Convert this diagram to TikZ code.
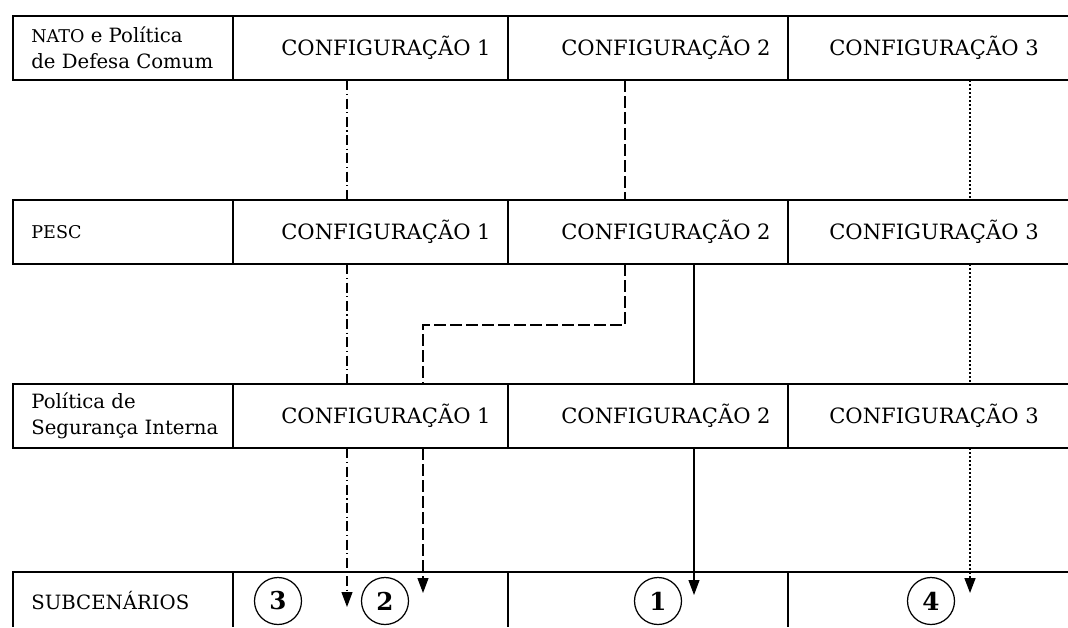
\documentclass[tikz,border=0pt]{standalone}
\usepackage{fontspec}
\setmainfont{DejaVu Serif}
\usetikzlibrary{positioning}
\usetikzlibrary{arrows.meta}

\tikzset{
  grid/.style={line width=0.9pt},
  cell/.style={minimum height=12.8mm, inner sep=0pt, font=\fontsize{12}{14}\selectfont},
  lbl/.style={anchor=west, align=left, inner sep=0pt, font=\fontsize{11.2}{14.5}\selectfont},
  num/.style={circle, draw, line width=0.7pt, minimum size=9.4mm, inner sep=0pt, font=\fontsize{14}{16}\selectfont\bfseries},
  arr/.style={-{Triangle[length=3mm,width=2.2mm]}},
  dashdot/.style={line width=0.6pt, dash pattern=on 2mm off 0.7mm on 0.25mm off 0.7mm},
  dsh/.style={line width=0.6pt, dash pattern=on 2.4mm off 0.8mm},
  dots/.style={line width=0.9pt, dash pattern=on 0.4mm off 0.4mm},
  sol/.style={line width=0.6pt}
}

\begin{document}
\begin{tikzpicture}[x=0.2mm, y=-0.2mm]

\useasboundingbox (0,0) rectangle (1068,627);

% grid
\foreach \t/\b in {16/80, 200/264, 384/448}{
  \draw[grid] (1068,\t) -- (13,\t) -- (13,\b) -- (1068,\b);
  \draw[grid] (233,\t) -- (233,\b);
  \draw[grid] (508,\t) -- (508,\b);
  \draw[grid] (788,\t) -- (788,\b);
}
\draw[grid] (1068,572) -- (13,572) -- (13,627);
\draw[grid] (233,572) -- (233,627);
\draw[grid] (508,572) -- (508,627);
\draw[grid] (788,572) -- (788,627);

% nodes
{
\node[lbl] (l1) at (31,48) {{\fontsize{10}{12}\selectfont NATO} e Política\\de Defesa Comum};
\node[lbl] (l2) at (31,232) {\fontsize{10}{12}\selectfont PESC};
\node[lbl] (l3) at (31,416) {Política de\\Segurança Interna};
\node[lbl] (l4) at (31,601) {SUBCENÁRIOS};

\node[cell] (c11) at (386,48) {CONFIGURAÇÃO 1};
\node[cell] (c12) at (666,48) {CONFIGURAÇÃO 2};
\node[cell] (c13) at (934,48) {CONFIGURAÇÃO 3};

\node[cell] (c21) at (386,232) {CONFIGURAÇÃO 1};
\node[cell] (c22) at (666,232) {CONFIGURAÇÃO 2};
\node[cell] (c23) at (934,232) {CONFIGURAÇÃO 3};

\node[cell] (c31) at (386,416) {CONFIGURAÇÃO 1};
\node[cell] (c32) at (666,416) {CONFIGURAÇÃO 2};
\node[cell] (c33) at (934,416) {CONFIGURAÇÃO 3};

\node[num] (s3) at (278,601) {3};
\node[num] (s2) at (385,601) {2};
\node[num] (s1) at (658,601) {1};
\node[num] (s4) at (931,601) {4};
}

\coordinate (xa) at (347,0);
\coordinate (xb) at (625,0);
\coordinate (kb) at (423,325);
\coordinate (xc) at (694,0);
\coordinate (xd) at (970,0);

\coordinate (t3) at (347,607);
\coordinate (t2) at (423,593);
\coordinate (t1) at (694,595);
\coordinate (t4) at (970,593);

% configuracao 1 -> 3
\draw[dashdot] (c11.south -| xa) -- (c21.north -| xa);
\draw[dashdot] (c21.south -| xa) -- (c31.north -| xa);
\draw[dashdot,arr] (c31.south -| xa) -- (t3);

% configuracao 2 -> 1 -> 2
\draw[dsh] (c12.south -| xb) -- (c22.north -| xb);
\draw[dsh] (c22.south -| xb) |- (kb) -- (kb |- c31.north);
\draw[dsh,arr] (c31.south -| kb) -- (t2);

% configuracao 2 -> 2
\draw[sol] (c22.south -| xc) -- (c32.north -| xc);
\draw[sol,arr] (c32.south -| xc) -- (t1);

% configuracao 3
\draw[dots] (c13.south -| xd) -- (c23.north -| xd);
\draw[dots] (c23.south -| xd) -- (c33.north -| xd);
\draw[dots,arr] (c33.south -| xd) -- (t4);

\end{tikzpicture}
\end{document}
